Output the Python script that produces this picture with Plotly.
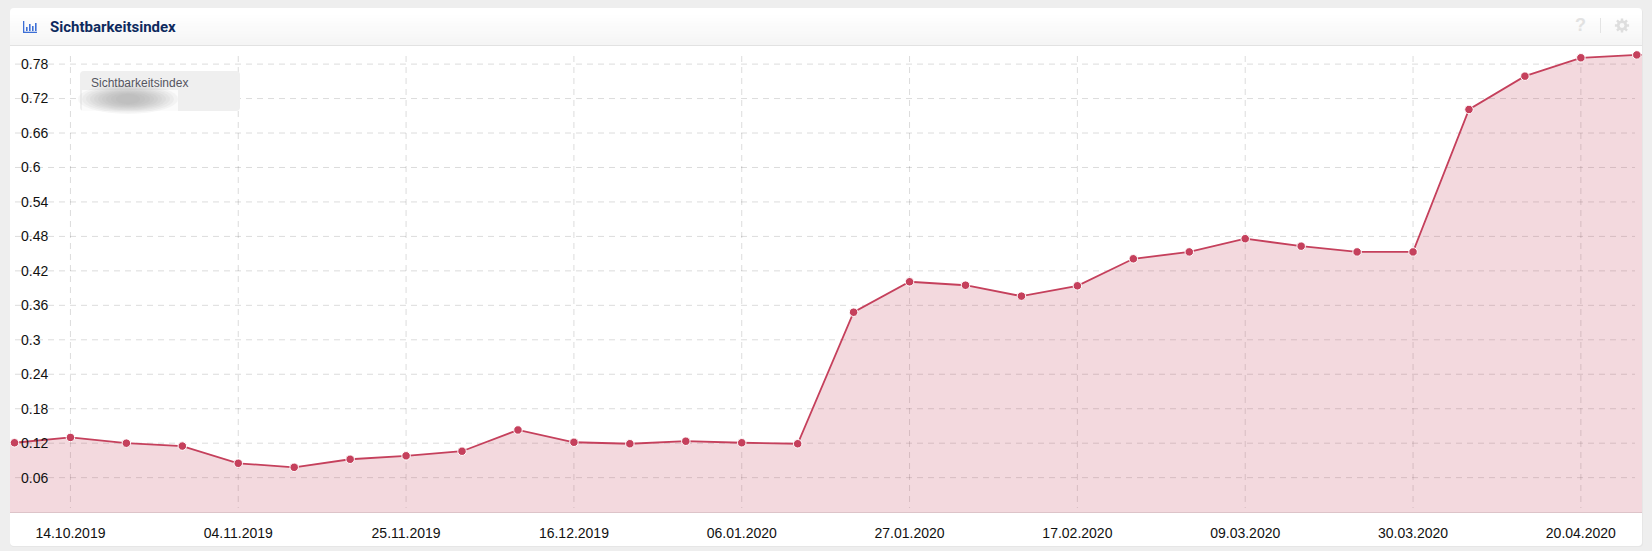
import math
import plotly.graph_objects as go
import pandas as pd

W, H = 1652, 551
dates = pd.date_range("2019-09-30", "2020-05-04", freq="7D")
values = [0.118, 0.1207, 0.130, 0.120, 0.115, 0.085, 0.078, 0.092, 0.098, 0.106, 0.143,
          0.1216, 0.119, 0.1234, 0.1207, 0.119, 0.348, 0.401, 0.395, 0.376, 0.394,
          0.441, 0.453, 0.476, 0.463, 0.453, 0.453, 0.701, 0.759, 0.791, 0.796, 0.798]
y_ticks = [0.06, 0.12, 0.18, 0.24, 0.3, 0.36, 0.42, 0.48, 0.54, 0.6, 0.66, 0.72, 0.78]
y_labels = ["0.06", "0.12", "0.18", "0.24", "0.3", "0.36", "0.42", "0.48", "0.54", "0.6", "0.66", "0.72", "0.78"]
x_ticks = ["2019-10-14", "2019-11-04", "2019-11-25", "2019-12-16", "2020-01-06", "2020-01-27",
           "2020-02-17", "2020-03-09", "2020-03-30", "2020-04-20"]
x_labels = ["14.10.2019", "04.11.2019", "25.11.2019", "16.12.2019", "06.01.2020", "27.01.2020",
            "17.02.2020", "09.03.2020", "30.03.2020", "20.04.2020"]
title = "Sichtbarkeitsindex"
RED = "#c5405c"

def fx(p): return p / W
def fy(p): return 1 - p / H
def rect(x0, y0, x1, y1, color, **kw):
    return dict(type="rect", xref="paper", yref="paper", x0=fx(x0), x1=fx(x1), y0=fy(y0), y1=fy(y1),
                fillcolor=color, line_width=0, layer="below", **kw)
def rounded(x0, y0, x1, y1, r, color):
    pts = (f"M{fx(x0+r)},{fy(y0)} L{fx(x1-r)},{fy(y0)} Q{fx(x1)},{fy(y0)} {fx(x1)},{fy(y0+r)} "
           f"L{fx(x1)},{fy(y1-r)} Q{fx(x1)},{fy(y1)} {fx(x1-r)},{fy(y1)} L{fx(x0+r)},{fy(y1)} "
           f"Q{fx(x0)},{fy(y1)} {fx(x0)},{fy(y1-r)} L{fx(x0)},{fy(y0+r)} Q{fx(x0)},{fy(y0)} {fx(x0+r)},{fy(y0)} Z")
    return dict(type="path", xref="paper", yref="paper", path=pts, fillcolor=color, line_width=0, layer="below")

shapes = [rounded(10, 9, 1643, 547, 4, "#e6e6e6"), rounded(10, 8, 1642, 546, 4, "#ffffff")]
n = 12
for i in range(n):
    g = 255 - round(10 * i / (n - 1))
    y0 = 12 + (45 - 12) * i / n
    shapes.append(rect(10, y0, 1642, y0 + (45 - 12) / n + 0.5, f"rgb({g},{g},{g})"))
shapes.append(rect(10, 45, 1642, 46, "#e2e2e2"))
GRID = "rgba(0,0,0,0.14)"
for v in y_ticks:
    shapes.append(dict(type="line", xref="paper", yref="y", x0=fx(15), x1=fx(1635), y0=v, y1=v,
                       line=dict(color=GRID, width=1, dash="6px,5px"), layer="below"))
for d in x_ticks:
    shapes.append(dict(type="line", xref="x", yref="paper", x0=d, x1=d, y0=fy(56), y1=fy(508),
                       line=dict(color=GRID, width=1, dash="6px,5px"), layer="below"))
legend_shapes = [rounded(80, 71, 240, 111, 4, "#efefef")]
legend_shapes[0]["layer"] = "above"
legend_shapes.append(dict(rect(82, 90, 178, 119, "rgba(255,255,255,0.75)"), layer="above"))
for a, b in [(50, 15), (46, 13.5), (42, 12), (38, 11), (34, 10), (30, 9), (26, 8), (22, 7), (17, 6), (12, 5)]:
    legend_shapes.append(dict(type="circle", xref="paper", yref="paper", x0=fx(128 - a), x1=fx(128 + a),
                              y0=fy(99 - b), y1=fy(99 + b), fillcolor="rgba(140,140,140,0.07)",
                              line_width=0, layer="above"))
icon = [rect(23, 21, 24.3, 33, "#3d6fd6"), rect(23, 31.7, 37, 33, "#3d6fd6"),
        rect(26, 27, 27.6, 31, "#3d6fd6"), rect(29, 24, 30.6, 31, "#3d6fd6"),
        rect(32, 26, 33.6, 31, "#3d6fd6"), rect(35, 23, 36.6, 31, "#3d6fd6"),
        rect(1600, 18, 1601, 33, "#e4e4e4")]
for s in icon:
    s["layer"] = "above"
cx, cy, teeth = 1622, 25.5, 8
gear = []
for i in range(teeth):
    a = 2 * math.pi * i / teeth
    for da, r in [(-0.24, 5.2), (-0.17, 7.2), (0.17, 7.2), (0.24, 5.2)]:
        gear.append((cx + r * math.cos(a + da), cy + r * math.sin(a + da)))
gear_path = "M" + " L".join(f"{fx(x)},{fy(y)}" for x, y in gear) + " Z"
icon.append(dict(type="path", xref="paper", yref="paper", path=gear_path, fillcolor="#dedede", line_width=0))
icon.append(dict(type="circle", xref="paper", yref="paper", x0=fx(cx - 2.4), x1=fx(cx + 2.4),
                 y0=fy(cy - 2.4), y1=fy(cy + 2.4), fillcolor="#f9f9f9", line_width=0))

fig = go.Figure(go.Scatter(
    x=dates, y=values, mode="lines+markers", fill="tozeroy", fillcolor="rgba(197,64,92,0.2)",
    line=dict(color=RED, width=1.8),
    marker=dict(size=8.5, color=RED, line=dict(color="#ffffff", width=1)),
    hoverinfo="skip", showlegend=False))

def txt(x, y, s, size, color, family="Liberation Sans", anchor="left", weight=None):
    return dict(xref="paper", yref="paper", x=fx(x), y=fy(y), text=s, showarrow=False, xanchor=anchor,
                yanchor="middle", font=dict(size=size, color=color, family=family, weight=weight))

fig.update_layout(
    width=W, height=H, autosize=False, margin=dict(l=0, r=0, t=0, b=0),
    paper_bgcolor="#eeeeee", plot_bgcolor="rgba(0,0,0,0)",
    xaxis=dict(domain=[fx(10), fx(1642)], range=["2019-10-06 10:30", "2020-04-27 15:36"], type="date",
               tickmode="array", tickvals=x_ticks, ticktext=x_labels, showgrid=False, ticks="",
               showline=True, linecolor="#ddc4c9", linewidth=1, zeroline=False,
               tickfont=dict(family="Liberation Sans", size=14, color="#111111"), ticklabelstandoff=8),
    yaxis=dict(domain=[fy(512.1), fy(44.4)], range=[0, 0.8143], tickmode="array", tickvals=y_ticks,
               ticktext=y_labels, showgrid=False, ticks="", zeroline=False, showline=False,
               ticklabelposition="inside", ticklabelstandoff=8,
               tickfont=dict(family="Liberation Sans", size=14, color="#111111")),
    shapes=shapes + legend_shapes + icon,
    annotations=[
        txt(48, 27, title, 15, "#0e2a5e", "Roboto", weight=700),
        txt(89, 83, title, 12, "#55555f"),
        txt(1580, 25.5, "?", 18, "#e2e2e2", "Liberation Sans", "center", 700),
    ],
)
fig.write_html("out.html", config=dict(displayModeBar=False), post_script="document.body.style.margin='0';")
